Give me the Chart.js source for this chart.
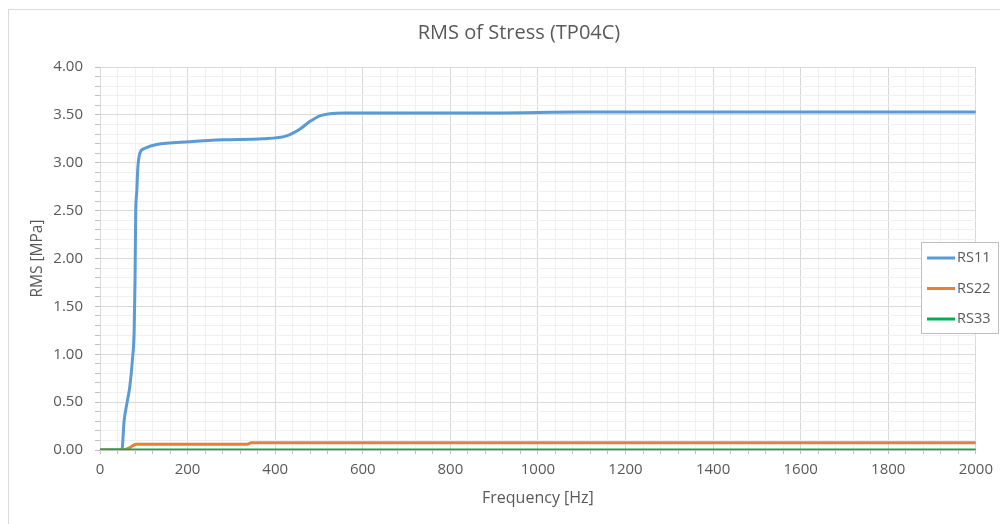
<!DOCTYPE html>
<html>
<head>
<meta charset="utf-8">
<title>RMS of Stress (TP04C)</title>
<script src="https://cdn.jsdelivr.net/npm/chart.js@4.4.0/dist/chart.umd.min.js"></script>
<style>
  html, body { margin: 0; padding: 0; background: #fff; }
  canvas { display: block; }
</style>
</head>
<body>
<canvas id="rmsChart" width="1000" height="524"></canvas>
<script>
// Series (frequency in Hz, RMS in MPa)
const seriesNames = ["RS11", "RS22", "RS33"];
const seriesColors = ["#5b9bd5", "#ed7d31", "#00b050"];

const freqRS11 = [0, 50, 55, 62, 68, 74, 78, 80, 81.5, 84, 86, 91, 102, 129, 205, 281, 372, 426, 456, 479, 502, 556, 900, 1100, 2000];
const rmsRS11  = [0, 0, 0.30, 0.50, 0.66, 0.94, 1.25, 1.77, 2.47, 2.70, 2.92, 3.10, 3.15, 3.19, 3.22, 3.24, 3.25, 3.28, 3.35, 3.43, 3.49, 3.52, 3.52, 3.53, 3.53];

const freqRS22 = [0, 50, 66, 83, 337, 345, 2000];
const rmsRS22  = [0, 0, 0.02, 0.06, 0.06, 0.075, 0.075];

const freqRS33 = [0, 2000];
const rmsRS33  = [0, 0];

// axis ticks
const xMax = 2000, xMajor = 200, xMinor = 40;
const yMax = 4, yMajor = 0.5, yMinor = 0.1;

const textColor = "#595959";
const fontFamily = "'Open Sans', Lato, sans-serif";

function toPoints(xs, ys) {
    return xs.map((x, i) => ({ x: x, y: ys[i] }));
}

function isMajor(v, step) {
    const r = v / step;
    return Math.abs(r - Math.round(r)) < 1e-6;
}

const allFreq = [freqRS11, freqRS22, freqRS33];
const allRms = [rmsRS11, rmsRS22, rmsRS33];

const datasets = seriesNames.map((name, i) => ({
    label: name,
    data: toPoints(allFreq[i], allRms[i]),
    borderColor: seriesColors[i],
    backgroundColor: seriesColors[i],
    borderWidth: 3,
    pointRadius: 0,
    cubicInterpolationMode: "monotone",
    order: seriesNames.length - i   // later series on top
}));

// outer frame of the chart object
const chartFrame = {
    id: "chartFrame",
    beforeDraw(chart) {
        const c = chart.ctx;
        c.save();
        c.fillStyle = "#fff";
        c.fillRect(0, 0, chart.width, chart.height);
        c.strokeStyle = "#d9d9d9";
        c.lineWidth = 1;
        c.strokeRect(8.5, 9.5, chart.width + 40, chart.height + 40);
        c.restore();
    }
};

// centre the title on the whole chart object, not the padded box
const titleOffset = {
    id: "titleOffset",
    afterLayout(chart) {
        chart.titleBlock.left += 31;
        chart.titleBlock.right += 31;
    }
};

// boxed legend floating over the right edge of the plot
const boxLegend = {
    id: "boxLegend",
    afterDraw(chart) {
        const c = chart.ctx;
        const x = 921.5, y = 242.5, w = 77, h = 91;
        c.save();
        c.fillStyle = "#fff";
        c.fillRect(x, y, w, h);
        c.strokeStyle = "#bfbfbf";
        c.lineWidth = 1;
        c.strokeRect(x, y, w, h);
        c.font = "14.5px " + fontFamily;
        c.textBaseline = "middle";
        c.textAlign = "left";
        chart.data.datasets.forEach((ds, i) => {
            const ly = 258 + i * 30.5;
            c.strokeStyle = ds.borderColor;
            c.lineWidth = 3;
            c.beginPath();
            c.moveTo(927, ly);
            c.lineTo(955, ly);
            c.stroke();
            c.fillStyle = textColor;
            c.fillText(ds.label, 957, ly);
        });
        c.restore();
    }
};

const ctx = document.getElementById("rmsChart").getContext("2d");
new Chart(ctx, {
    type: "line",
    data: { datasets: datasets },
    plugins: [chartFrame, titleOffset, boxLegend],
    options: {
        responsive: false,
        animation: false,
        devicePixelRatio: 1,
        layout: { padding: { left: 0, right: 24, top: 0, bottom: 0 } },
        plugins: {
            legend: { display: false },
            tooltip: { enabled: false },
            title: {
                display: true,
                text: "RMS of Stress (TP04C)",
                color: textColor,
                font: { family: fontFamily, size: 20, weight: "normal" },
                padding: { top: 21, bottom: 22 }
            }
        },
        scales: {
            x: {
                type: "linear",
                min: 0,
                max: xMax,
                afterFit: s => { s.height = 74; },
                ticks: {
                    stepSize: xMinor,
                    autoSkip: false,
                    maxRotation: 0,
                    minRotation: 0,
                    padding: 7,
                    color: textColor,
                    font: { family: fontFamily, size: 15 },
                    callback: v => isMajor(v, xMajor) ? String(v) : ""
                },
                grid: {
                    color: c => isMajor(c.tick.value, xMajor) ? "#d9d9d9" : "#f0f0f0",
                    tickColor: "#bfbfbf",
                    tickLength: 4
                },
                border: { color: "#bfbfbf" },
                title: {
                    display: true,
                    text: "Frequency [Hz]",
                    color: textColor,
                    font: { family: fontFamily, size: 16 },
                    padding: { top: 0, bottom: 16 }
                }
            },
            y: {
                min: 0,
                max: yMax,
                afterFit: s => { s.width = 100; },
                ticks: {
                    stepSize: yMinor,
                    autoSkip: false,
                    padding: 12,
                    color: textColor,
                    font: { family: fontFamily, size: 15 },
                    callback: v => isMajor(v, yMajor) ? v.toFixed(2) : ""
                },
                grid: {
                    color: c => isMajor(c.tick.value, yMajor) ? "#d9d9d9" : "#f0f0f0",
                    tickColor: "#bfbfbf",
                    tickLength: 5
                },
                border: { color: "#d9d9d9" },
                title: {
                    display: true,
                    text: "RMS [MPa]",
                    color: textColor,
                    font: { family: fontFamily, size: 15.5 },
                    padding: { top: 28, bottom: 0 }
                }
            }
        }
    }
});
</script>
</body>
</html>
